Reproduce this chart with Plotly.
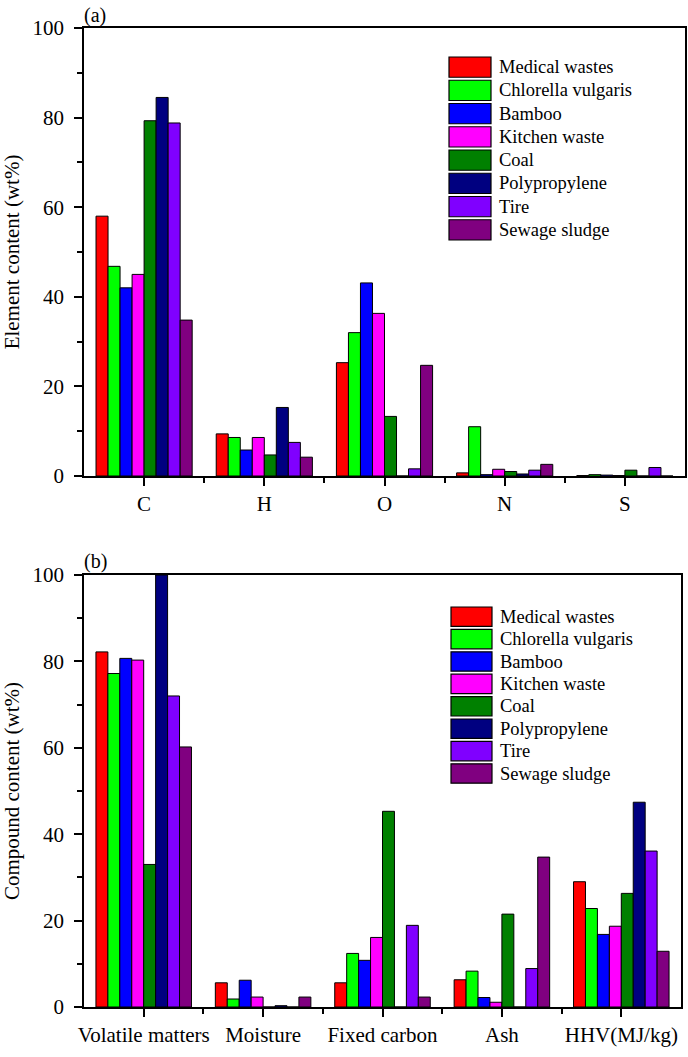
import plotly.graph_objects as go

W, H = 688, 1057

series_names = ["Medical wastes", "Chlorella vulgaris", "Bamboo", "Kitchen waste",
                "Coal", "Polypropylene", "Tire", "Sewage sludge"]
series_colors = ["#FF0000", "#00FF00", "#0000FF", "#FF00FF",
                 "#008000", "#000080", "#8000FF", "#800080"]

# (a) element content, wt%
elements = ["C", "H", "O", "N", "S"]
medical_a = [58.0, 9.4, 25.3, 0.7, 0.1]
chlorella_a = [46.8, 8.6, 32.0, 11.0, 0.3]
bamboo_a = [42.0, 5.8, 43.1, 0.3, 0.2]
kitchen_a = [45.0, 8.6, 36.3, 1.5, 0.1]
coal_a = [79.3, 4.7, 13.3, 1.0, 1.3]
pp_a = [84.5, 15.3, 0.0, 0.45, 0.0]
tire_a = [78.8, 7.5, 1.6, 1.3, 1.9]
sludge_a = [34.8, 4.2, 24.7, 2.6, 0.0]

# (b) compound content, wt% (HHV in MJ/kg)
compounds = ["Volatile matters", "Moisture", "Fixed carbon", "Ash", "HHV(MJ/kg)"]
medical_b = [82.2, 5.6, 5.6, 6.3, 29.0]
chlorella_b = [77.2, 1.85, 12.4, 8.3, 22.8]
bamboo_b = [80.7, 6.2, 10.8, 2.2, 16.8]
kitchen_b = [80.3, 2.3, 16.1, 1.1, 18.7]
coal_b = [33.0, 0.0, 45.3, 21.5, 26.3]
pp_b = [100.0, 0.3, 0.0, 0.0, 47.4]
tire_b = [72.0, 0.0, 18.9, 8.9, 36.1]
sludge_b = [60.2, 2.3, 2.3, 34.7, 12.9]

data_a = [medical_a, chlorella_a, bamboo_a, kitchen_a, coal_a, pp_a, tire_a, sludge_a]
data_b = [medical_b, chlorella_b, bamboo_b, kitchen_b, coal_b, pp_b, tire_b, sludge_b]

FONT = "Liberation Serif, Times New Roman, serif"

fig = go.Figure()
for name, color, vals in zip(series_names, series_colors, data_a):
    fig.add_trace(go.Bar(x=list(range(len(elements))), y=vals, name=name,
                         marker=dict(color=color, line=dict(color="black", width=1)),
                         xaxis="x", yaxis="y", showlegend=False))
for name, color, vals in zip(series_names, series_colors, data_b):
    fig.add_trace(go.Bar(x=list(range(len(compounds))), y=vals, name=name,
                         marker=dict(color=color, line=dict(color="black", width=1)),
                         xaxis="x2", yaxis="y2", showlegend=False))

def px_x(p):
    return p / W

def px_y(p):
    return 1 - p / H

common_axis = dict(showline=True, linecolor="black", linewidth=1.5, mirror=True,
                   ticks="outside", ticklen=8, tickwidth=1.5, tickcolor="black",
                   showgrid=False, zeroline=False, automargin=False,
                   tickfont=dict(family=FONT, size=21, color="black"))

xa = dict(common_axis, tickvals=list(range(len(elements))), ticktext=elements,
          range=[-0.5, len(elements) - 0.5],
          minor=dict(tickvals=[i + 0.5 for i in range(len(elements) - 1)],
                     ticks="outside", ticklen=5, tickwidth=1.5, tickcolor="black"))
xb = dict(common_axis, tickvals=list(range(len(compounds))), ticktext=compounds,
          range=[-0.5, len(compounds) - 0.5],
          minor=dict(tickvals=[i + 0.5 for i in range(len(compounds) - 1)],
                     ticks="outside", ticklen=5, tickwidth=1.5, tickcolor="black"))
ya = dict(common_axis, range=[0, 100], dtick=20, ticklabelstandoff=6,
          minor=dict(dtick=10, ticks="outside", ticklen=5, tickwidth=1.5, tickcolor="black"))

# Legend blocks (drawn from the series lists)
shapes = []
annotations = []
legend_layouts = [  # (swatch left px, swatch right px, first top px, row step px, text left px)
    (449, 491, 57, 23.25, 497),
    (451, 492, 607, 22.4, 498),
]
for (x0, x1, top, step, tx) in legend_layouts:
    for i, (name, color) in enumerate(zip(series_names, series_colors)):
        y_top = top + i * step
        y_bot = y_top + step - 3
        shapes.append(dict(type="rect", xref="paper", yref="paper",
                           x0=px_x(x0), x1=px_x(x1), y0=px_y(y_bot), y1=px_y(y_top),
                           fillcolor=color, line=dict(color="black", width=1.2)))
        annotations.append(dict(text=name, x=px_x(tx), y=px_y((y_top + y_bot) / 2),
                                xref="paper", yref="paper", xanchor="left", yanchor="middle",
                                showarrow=False, font=dict(family=FONT, size=18.5, color="black")))

annotations += [
    dict(text="(a)", x=px_x(82), y=px_y(15), xref="paper", yref="paper",
         xanchor="left", yanchor="middle", showarrow=False, font=dict(family=FONT, size=20)),
    dict(text="(b)", x=px_x(82), y=px_y(561), xref="paper", yref="paper",
         xanchor="left", yanchor="middle", showarrow=False, font=dict(family=FONT, size=20)),
]

fig.update_layout(
    template="none",
    width=W, height=H,
    margin=dict(l=0, r=0, t=0, b=0),
    paper_bgcolor="white", plot_bgcolor="white",
    barmode="group", bargap=0.2, bargroupgap=0,
    showlegend=False,
    font=dict(family=FONT, size=21, color="black"),
    xaxis=dict(xa, domain=[px_x(84), px_x(685)], anchor="y"),
    yaxis=dict(ya, domain=[px_y(476), px_y(28)], anchor="x",
               title=dict(text="Element content (wt%)", font=dict(family=FONT, size=21), standoff=10)),
    xaxis2=dict(xb, domain=[px_x(84), px_x(681)], anchor="y2"),
    yaxis2=dict(ya, domain=[px_y(1007), px_y(575)], anchor="x2",
                title=dict(text="Compound content (wt%)", font=dict(family=FONT, size=21), standoff=10)),
    shapes=shapes,
    annotations=annotations,
)

fig.write_html("out.html", config={"displayModeBar": False},
               post_script="document.body.style.margin='0px';")
